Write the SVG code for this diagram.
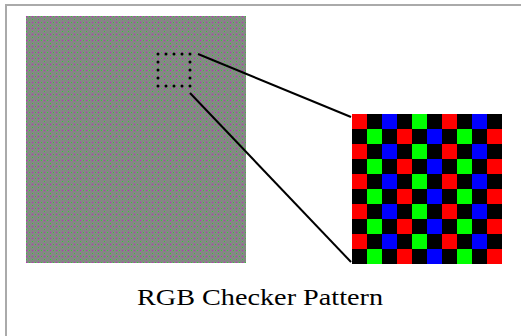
<svg xmlns="http://www.w3.org/2000/svg" width="521" height="336" viewBox="0 0 521 336">
<style>
.frame{stroke:#aaaaaa;stroke-width:2;fill:none}
.conn{stroke:#000;stroke-width:2;fill:none}
.dots{stroke:#000;stroke-width:3;stroke-linecap:round;stroke-dasharray:0 8;fill:none}
.R{fill:#ff0000}.G{fill:#00ff00}.B{fill:#0000ff}
.cap{font-family:"Liberation Serif",serif;font-size:23px;fill:#000}
</style>
<defs>
<pattern id="tex" width="6" height="6" patternUnits="userSpaceOnUse" x="26" y="16">
<rect width="6" height="6" fill="#868686"/>
<rect x="0" y="0" width="1" height="1" fill="#c020c0"/>
<rect x="3" y="0" width="1" height="1" fill="#30d030"/>
<rect x="0" y="3" width="1" height="1" fill="#30d030"/>
</pattern>
</defs>
<rect width="521" height="336" fill="#fff"/>
<path class="frame" d="M6,336 V5 H521"/>
<g id="image">
<rect x="26" y="16" width="220" height="247" fill="url(#tex)"/>
</g>
<g id="selection">
<rect class="dots" x="158" y="54" width="32" height="32"/>
</g>
<g id="zoom">
<rect x="352" y="114" width="150" height="150" fill="#000"/>
<g id="row0">
<rect class="R" x="352" y="114" width="15" height="15"/>
<rect class="B" x="382" y="114" width="15" height="15"/>
<rect class="G" x="412" y="114" width="15" height="15"/>
<rect class="R" x="442" y="114" width="15" height="15"/>
<rect class="B" x="472" y="114" width="15" height="15"/>
<rect class="G" x="367" y="129" width="15" height="15"/>
<rect class="R" x="397" y="129" width="15" height="15"/>
<rect class="B" x="427" y="129" width="15" height="15"/>
<rect class="G" x="457" y="129" width="15" height="15"/>
<rect class="R" x="487" y="129" width="15" height="15"/>
</g>
<use href="#row0" y="30"/>
<use href="#row0" y="60"/>
<use href="#row0" y="90"/>
<use href="#row0" y="120"/>
</g>
<g id="connectors">
<line class="conn" x1="198" y1="54" x2="351" y2="117"/>
<line class="conn" x1="190" y1="93" x2="351" y2="262"/>
</g>
<g id="caption">
<text class="cap" x="260" y="305" text-anchor="middle" textLength="246" lengthAdjust="spacingAndGlyphs">RGB Checker Pattern</text>
</g>
</svg>
